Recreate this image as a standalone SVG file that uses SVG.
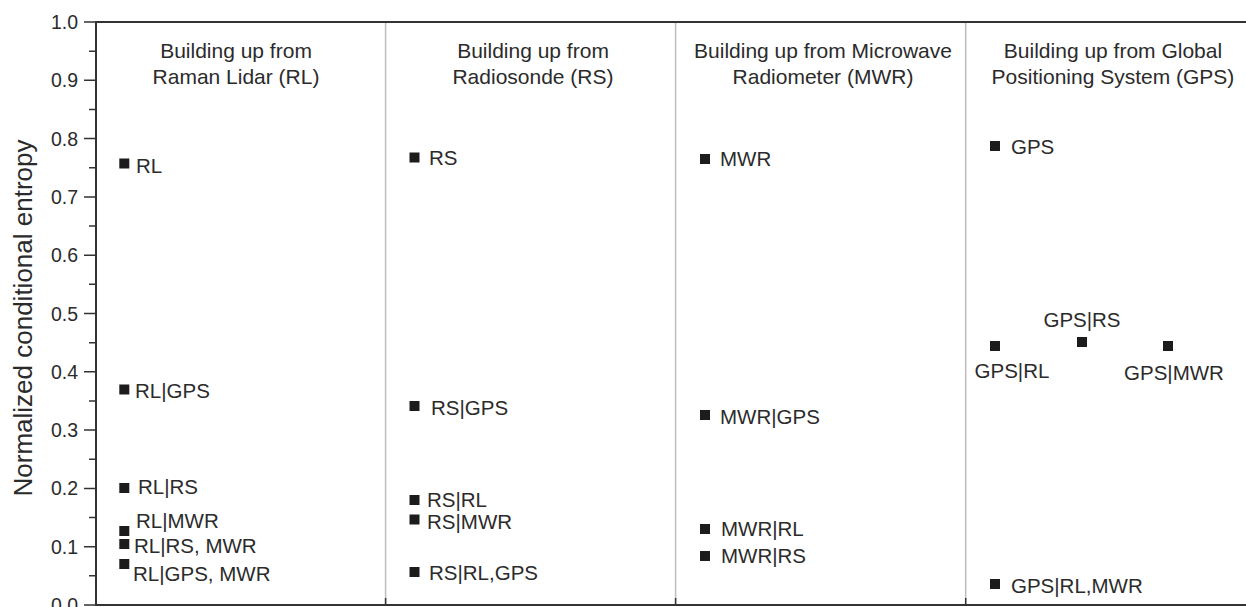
<svg xmlns="http://www.w3.org/2000/svg" width="1246" height="607" viewBox="0 0 1246 607">
<style>
text{font-family:"Liberation Sans",Arial,sans-serif;fill:#2b2b2b}
.tl{font-size:19.5px;text-anchor:end}
.ti{font-size:21px;text-anchor:middle}
.lb{font-size:20.5px}
.lc{font-size:20.5px;text-anchor:middle}
.ax{font-size:26px;text-anchor:middle}
.m{fill:#1c1c1c}
.axis{stroke:#333;stroke-width:2;fill:none}
.tk{stroke:#333;stroke-width:1.5}
.sep{stroke:#bdbdbd;stroke-width:1.5}
</style>
<defs><rect id="sq" class="m" x="-5" y="-5" width="10" height="10"/></defs>
<rect width="1246" height="607" fill="#fff"/>
<g id="frame">
<line class="sep" x1="385.6" y1="23" x2="385.6" y2="604"/>
<line class="sep" x1="675.6" y1="23" x2="675.6" y2="604"/>
<line class="sep" x1="965.7" y1="23" x2="965.7" y2="604"/>
<path class="axis" d="M1246 22H96V605H1246"/>
<path class="tk" d="M385.6 605V598M675.6 605V598M965.7 605V598"/>
<path class="tk" d="M84 22H96M84 80.3H96M84 138.6H96M84 196.9H96M84 255.2H96M84 313.5H96M84 371.8H96M84 430.1H96M84 488.4H96M84 546.7H96M84 605H96"/>
<path class="tk" d="M89 51.15H96M89 109.45H96M89 167.75H96M89 226.05H96M89 284.35H96M89 342.65H96M89 400.95H96M89 459.25H96M89 517.55H96M89 575.85H96"/>
<text class="tl" x="78" y="29">1.0</text>
<text class="tl" x="78" y="87.3">0.9</text>
<text class="tl" x="78" y="145.6">0.8</text>
<text class="tl" x="78" y="203.9">0.7</text>
<text class="tl" x="78" y="262.2">0.6</text>
<text class="tl" x="78" y="320.5">0.5</text>
<text class="tl" x="78" y="378.8">0.4</text>
<text class="tl" x="78" y="437.1">0.3</text>
<text class="tl" x="78" y="495.4">0.2</text>
<text class="tl" x="78" y="553.7">0.1</text>
<text class="tl" x="78" y="612">0.0</text>
<text class="ax" transform="translate(32 318) rotate(-90)">Normalized conditional entropy</text>
</g>
<g id="titles">
<text class="ti" x="236" y="58">Building up from</text>
<text class="ti" x="236" y="84">Raman Lidar (RL)</text>
<text class="ti" x="533" y="58">Building up from</text>
<text class="ti" x="533" y="84">Radiosonde (RS)</text>
<text class="ti" x="823" y="58">Building up from Microwave</text>
<text class="ti" x="823" y="84">Radiometer (MWR)</text>
<text class="ti" x="1113" y="58">Building up from Global</text>
<text class="ti" x="1113" y="84">Positioning System (GPS)</text>
</g>
<g id="connectors"></g>
<g id="n-RL"><use href="#sq" x="124.3" y="163.5"/><text class="lb" x="136" y="173">RL</text></g>
<g id="n-RL-GPS"><use href="#sq" x="124.3" y="389.5"/><text class="lb" x="135" y="398">RL|GPS</text></g>
<g id="n-RL-RS"><use href="#sq" x="124.3" y="488"/><text class="lb" x="138" y="494">RL|RS</text></g>
<g id="n-RL-MWR"><use href="#sq" x="124.3" y="531"/><text class="lb" x="136" y="528">RL|MWR</text></g>
<g id="n-RL-RS-MWR"><use href="#sq" x="124.3" y="544"/><text class="lb" x="134" y="553">RL|RS, MWR</text></g>
<g id="n-RL-GPS-MWR"><use href="#sq" x="124.3" y="564"/><text class="lb" x="133" y="581">RL|GPS, MWR</text></g>
<g id="n-RS"><use href="#sq" x="414.5" y="157.5"/><text class="lb" x="429" y="165">RS</text></g>
<g id="n-RS-GPS"><use href="#sq" x="414.5" y="406"/><text class="lb" x="431" y="415">RS|GPS</text></g>
<g id="n-RS-RL"><use href="#sq" x="414.5" y="500"/><text class="lb" x="427" y="507">RS|RL</text></g>
<g id="n-RS-MWR"><use href="#sq" x="414.5" y="519.5"/><text class="lb" x="427" y="529">RS|MWR</text></g>
<g id="n-RS-RL-GPS"><use href="#sq" x="414.5" y="572"/><text class="lb" x="429" y="580">RS|RL,GPS</text></g>
<g id="n-MWR"><use href="#sq" x="705" y="159"/><text class="lb" x="720" y="166">MWR</text></g>
<g id="n-MWR-GPS"><use href="#sq" x="705" y="415"/><text class="lb" x="720" y="424">MWR|GPS</text></g>
<g id="n-MWR-RL"><use href="#sq" x="705" y="529"/><text class="lb" x="721" y="536">MWR|RL</text></g>
<g id="n-MWR-RS"><use href="#sq" x="705" y="556"/><text class="lb" x="721" y="563">MWR|RS</text></g>
<g id="n-GPS"><use href="#sq" x="995" y="146"/><text class="lb" x="1011" y="154">GPS</text></g>
<g id="n-GPS-RL"><use href="#sq" x="995" y="346"/><text class="lc" x="1012" y="378">GPS|RL</text></g>
<g id="n-GPS-RS"><use href="#sq" x="1082" y="342"/><text class="lc" x="1082" y="327">GPS|RS</text></g>
<g id="n-GPS-MWR"><use href="#sq" x="1168" y="346"/><text class="lc" x="1174" y="380">GPS|MWR</text></g>
<g id="n-GPS-RL-MWR"><use href="#sq" x="995" y="584"/><text class="lb" x="1011" y="593">GPS|RL,MWR</text></g>
</svg>
